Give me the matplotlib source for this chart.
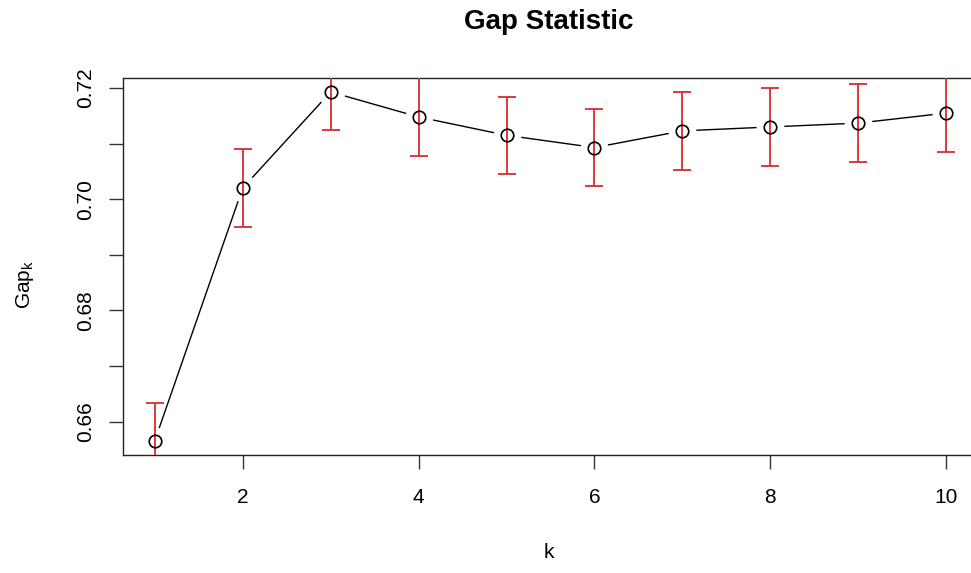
"""
Gap statistic plot: gap value per number of clusters k, with error bars.
"""
import matplotlib
matplotlib.use('Agg')
import matplotlib.pyplot as plt

# Values
k_values = [1, 2, 3, 4, 5, 6, 7, 8, 9, 10]
gap = [0.6565, 0.7020, 0.7193, 0.7148, 0.7115, 0.7093, 0.7123, 0.7130, 0.7137, 0.7155]
gap_se = [0.0069, 0.0070, 0.0069, 0.0071, 0.0069, 0.0069, 0.0070, 0.0071, 0.0070, 0.0070]
x_ticks = [2, 4, 6, 8, 10]
y_ticks = [0.66, 0.67, 0.68, 0.69, 0.70, 0.71, 0.72]
y_tick_labels = ['0.66', '', '0.68', '', '0.70', '', '0.72']

plt.rcParams['font.family'] = ['Liberation Sans', 'DejaVu Sans']

fig = plt.figure(figsize=(9.71, 5.73), dpi=100)
# the plot box runs a little past the right edge of the picture
ax = fig.add_axes([0.1267, 0.2059, 0.8805, 0.658])

# Line with gaps around the points (like R type="b"):
# draw the line, mask it around each point, then draw bars and circles on top.
ax.plot(k_values, gap, color='black', linewidth=1.0, zorder=2)
ax.plot(k_values, gap, linestyle='none', marker='o', markersize=20,
        markerfacecolor='white', markeredgecolor='none', zorder=2.1)
ax.errorbar(k_values, gap, yerr=gap_se, fmt='none', ecolor='#d92b2b',
            elinewidth=1.3, capsize=6.5, capthick=1.3, zorder=3)
ax.plot(k_values, gap, linestyle='none', marker='o', markersize=9,
        markerfacecolor='none', markeredgecolor='black', markeredgewidth=1.2, zorder=4)

# R style axis limits: data range plus 4 percent on each side
x_pad = 0.04 * (max(k_values) - min(k_values))
y_pad = 0.04 * (max(gap) - min(gap))
ax.set_xlim(min(k_values) - x_pad, max(k_values) + x_pad)
ax.set_ylim(min(gap) - y_pad, max(gap) + y_pad)

ax.set_xticks(x_ticks)
ax.set_xticklabels([str(t) for t in x_ticks])
ax.set_yticks(y_ticks)
ax.set_yticklabels(y_tick_labels, rotation=90, va='center')
ax.tick_params(axis='both', direction='out', length=10, width=1.0,
               labelsize=15, color='#333333')
ax.tick_params(axis='x', pad=14)
ax.tick_params(axis='y', pad=10)

for side in ax.spines.values():
    side.set_linewidth(1.0)
    side.set_color('#222222')

fig.text(0.565, 0.962, 'Gap Statistic', ha='center', va='center',
         fontsize=20, fontweight='bold')
fig.text(0.565, 0.035, 'k', ha='center', va='center', fontsize=15)
fig.text(0.026, 0.503, r'Gap$_\mathregular{k}$', ha='center', va='center',
         fontsize=15, rotation=90)

fig.savefig('out.png', dpi=100)
